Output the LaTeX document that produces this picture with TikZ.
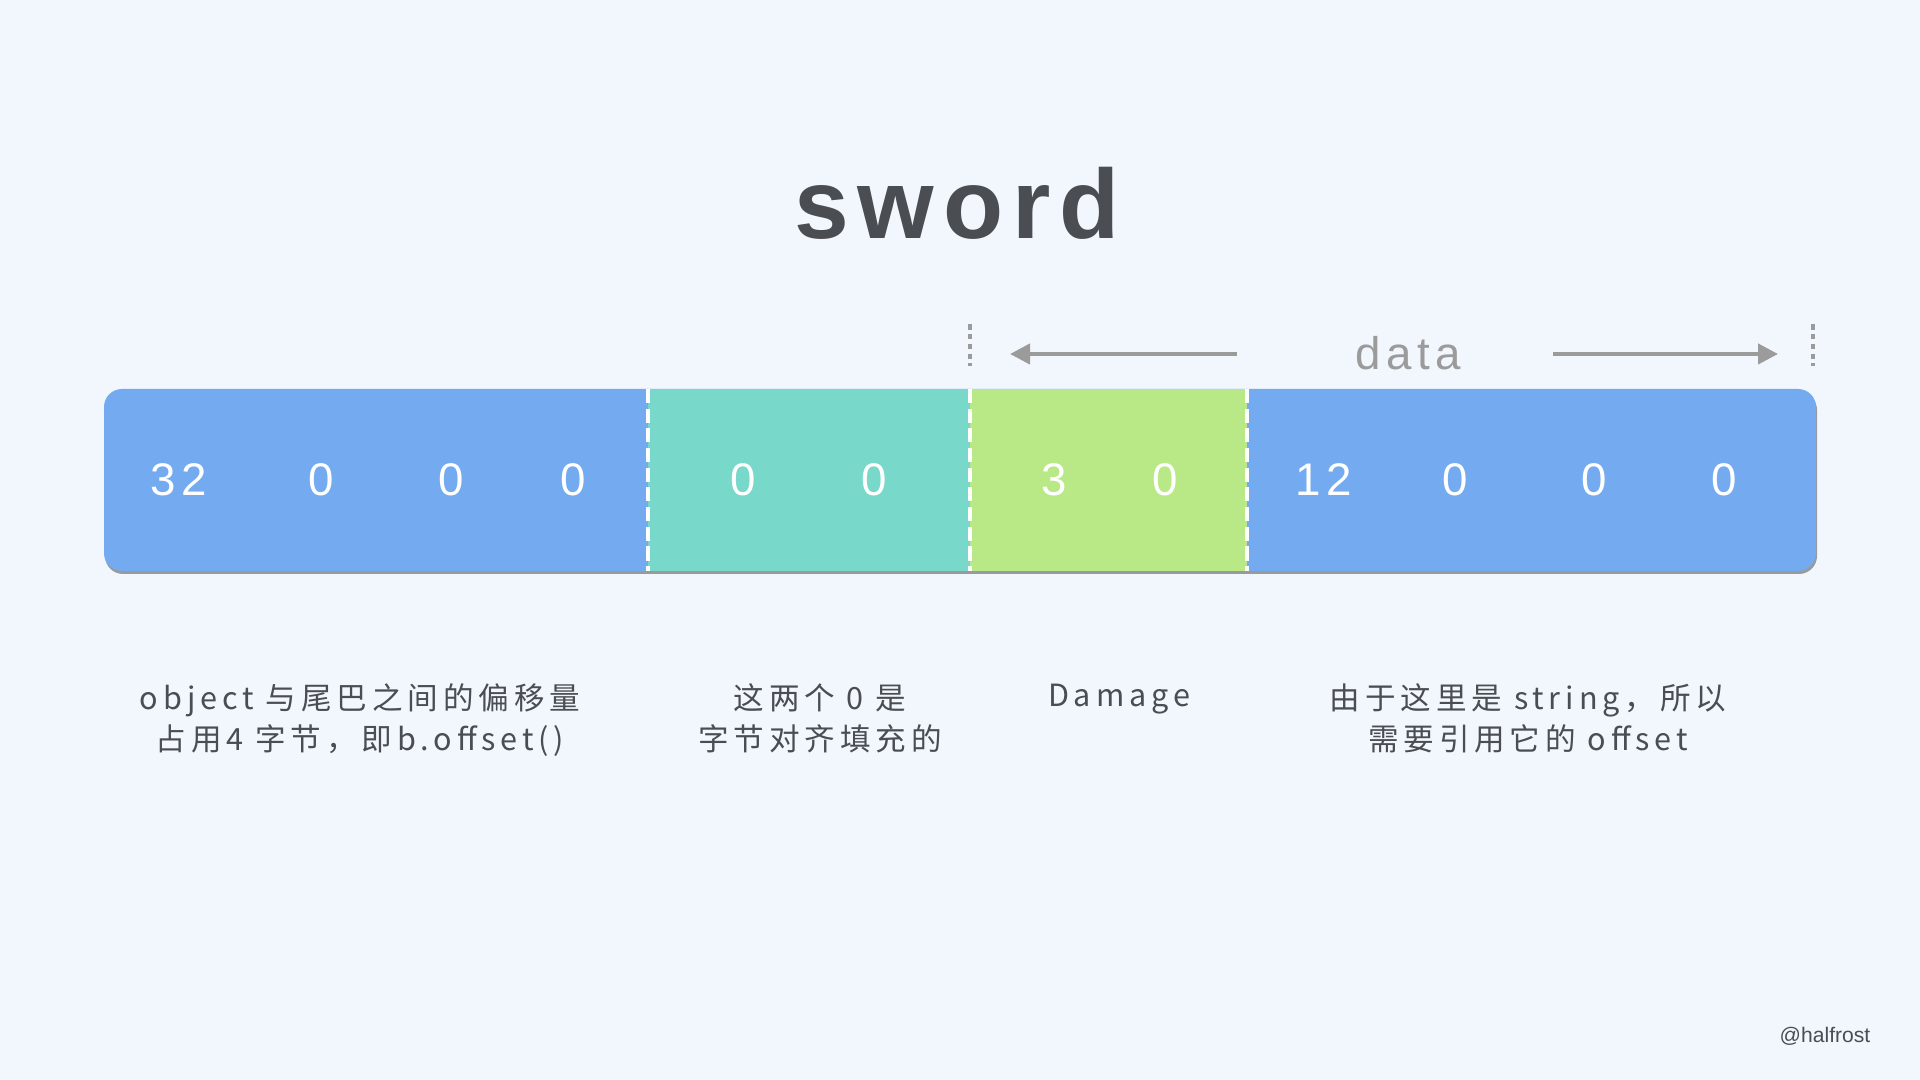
\documentclass[tikz,border=0pt]{standalone}
\usepackage{fontspec}
\setmainfont{Liberation Sans}
\newfontfamily\titlefont[LetterSpace=9]{Liberation Sans}
\newfontfamily\numfont[LetterSpace=12]{Liberation Sans}
\newfontfamily\cjk[LetterSpace=16]{Noto Sans CJK SC}
\usetikzlibrary{calc, positioning, arrows.meta}

\definecolor{bgpaper}{HTML}{F2F7FD}
\definecolor{barblue}{HTML}{74ABF0}
\definecolor{barteal}{HTML}{78D8C9}
\definecolor{bargreen}{HTML}{B8E986}
\definecolor{inkgray}{HTML}{4A4D51}
\definecolor{guidegray}{HTML}{9B9B9B}

\begin{document}
\begin{tikzpicture}[
  num/.style={text=white, inner sep=0pt, font=\numfont\fontsize{13}{15}\selectfont},
  note/.style={text=inkgray, anchor=north, inner sep=0pt, align=center,
    font=\cjk\fontsize{8.7}{11.7}\selectfont},
  bound/.style={draw=guidegray, line width=0.9pt, dash pattern=on 1.6pt off 1.2pt},
  gap/.style={draw=white, line width=1pt, dash pattern=on 4pt off 1.6pt},
  span/.style={draw=guidegray, line width=1.2pt, -{Triangle[length=0.2cm, width=0.2cm]}}]
\useasboundingbox (0,0) rectangle (19.2,10.8);
\fill[bgpaper] (0,0) rectangle (19.2,10.8);

% Title
\node (title) [anchor=base, text=inkgray, inner sep=0pt,
  font=\titlefont\bfseries\fontsize{28}{30}\selectfont] at (9.57,8.41) {sword};

% Data span above the bar
\draw[bound] (9.70,7.56) -- (9.70,7.14);
\draw[bound] (18.13,7.56) -- (18.13,7.14);
\node (data) [text=guidegray, inner sep=0pt,
  font=\numfont\fontsize{13}{15}\selectfont] at (14.08,7.27) {data};
\coordinate (leftend) at (10.10,7.26);
\coordinate (rightend) at (17.78,7.26);
\draw[span] ([xshift=-1.18cm]data.west |- leftend) -- (leftend);
\draw[span] ([xshift=0.92cm]data.east |- rightend) -- (rightend);

% The bar
\fill[black!55, opacity=0.7, rounded corners=0.18cm] (1.05,5.06) rectangle (18.17,6.88);
\fill[barblue, rounded corners=0.18cm] (1.04,5.09) rectangle (18.16,6.91);
\fill[barteal] (6.48,5.09) rectangle (9.70,6.91);
\fill[bargreen] (9.70,5.09) rectangle (12.47,6.91);
\draw[gap] (6.48,6.91) -- (6.48,5.09);
\draw[gap] (9.70,6.91) -- (9.70,5.09);
\draw[gap] (12.47,6.91) -- (12.47,5.09);

% Bytes
\node (b1) [num] at (1.79,6.00) {32};
\node (b2) [num] at (3.21,6.00) {0};
\node (b3) [num] at (4.51,6.00) {0};
\node (b4) [num] at (5.73,6.00) {0};
\node (b5) [num] at (7.43,6.00) {0};
\node (b6) [num] at (8.74,6.00) {0};
\node (b7) [num] at (10.54,6.00) {3};
\node (b8) [num] at (11.65,6.00) {0};
\node (b9) [num] at (13.24,6.00) {12};
\node (b10) [num] at (14.55,6.00) {0};
\node (b11) [num] at (15.94,6.00) {0};
\node (b12) [num] at (17.24,6.00) {0};

% Notes below
\node (offsetnote) [note] at (3.60,3.97) {object 与尾巴之间的偏移量\\占用4 字节，即b.offset()};
\node (padnote) [note] at (8.20,3.97) {这两个 0 是\\字节对齐填充的};
\node (damagenote) [note] at (11.19,3.97) {Damage};
\node (stringnote) [note] at (15.28,3.97) {由于这里是 string，所以\\需要引用它的 offset};

\node (credit) [text=inkgray, inner sep=0pt, font=\fontsize{6}{7}\selectfont] at (18.25,0.44) {@halfrost};
\end{tikzpicture}
\end{document}
